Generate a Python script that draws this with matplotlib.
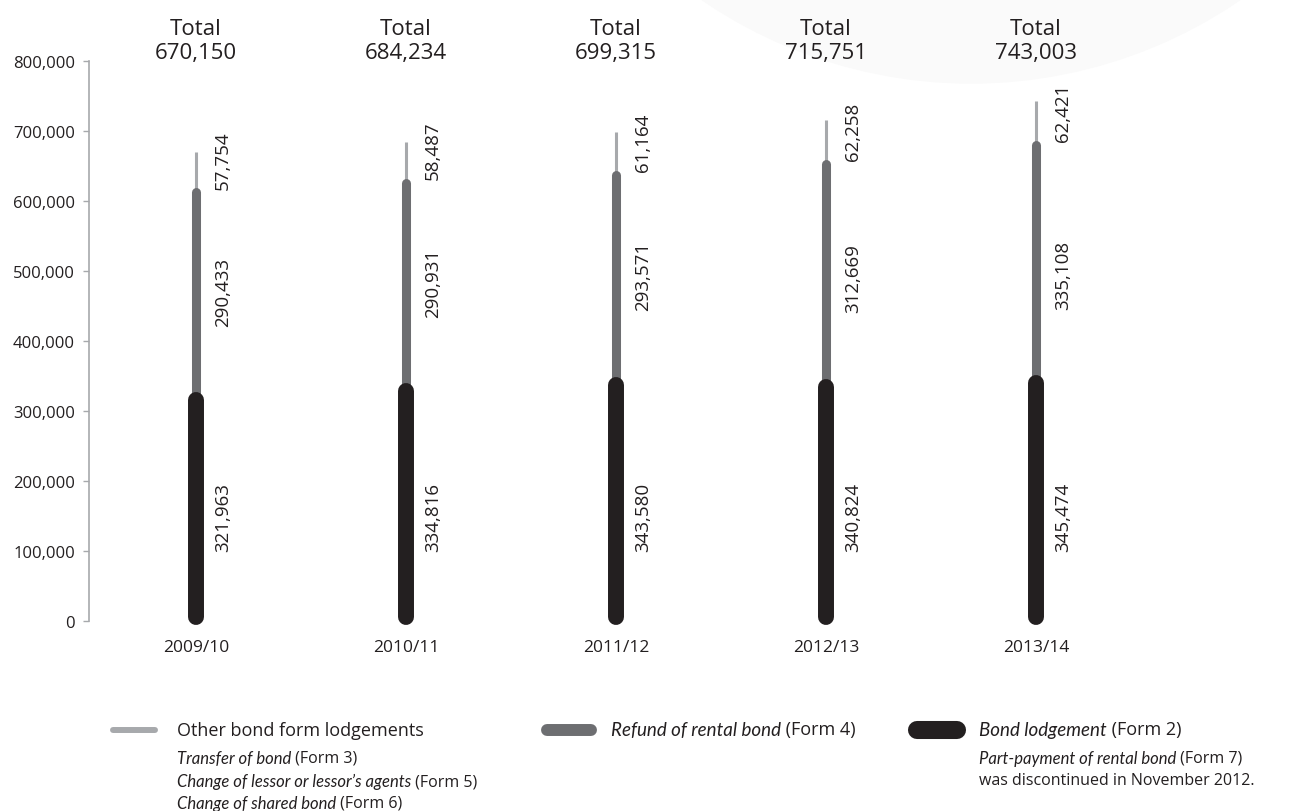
import matplotlib.pyplot as plt
from matplotlib.lines import Line2D
from matplotlib.patches import Ellipse

# 数据
years = ['2009/10', '2010/11', '2011/12', '2012/13', '2013/14']
bond_lodgement = [321963, 334816, 343580, 340824, 345474]   # Form 2
refund = [290433, 290931, 293571, 312669, 335108]           # Form 4
other_forms = [57754, 58487, 61164, 62258, 62421]           # Form 3/5/6
totals = [670150, 684234, 699315, 715751, 743003]
yticks = [0, 100000, 200000, 300000, 400000, 500000, 600000, 700000, 800000]

c_black = '#231f20'
c_dark = '#6d6e71'
c_light = '#a7a9ac'

plt.rcParams['font.family'] = ['Open Sans', 'DejaVu Sans']
plt.rcParams['text.color'] = c_black
ital_family = ['Lato', 'DejaVu Sans']

W, H = 1291, 812
fig = plt.figure(figsize=(W / 100, H / 100), dpi=100)

# 背景的浅灰圆
fig.add_artist(Ellipse((971 / W, 1 + 392 / H), 2 * 476 / W, 2 * 476 / H,
                       transform=fig.transFigure, color='#fafafa', zorder=-5))

ax = fig.add_axes([89 / W, 1 - 622 / H, (1150 - 89) / W, 560 / H])
ax.set_facecolor('none')

for i in range(len(years)):
    b = bond_lodgement[i]
    r = refund[i]
    o = other_forms[i]
    ax.plot([i, i], [b + r, b + r + o], color=c_light, lw=2.2, solid_capstyle='butt',
            zorder=2, clip_on=False)
    ax.plot([i, i], [b, b + r], color=c_dark, lw=6.5, solid_capstyle='round',
            zorder=3, clip_on=False)
    ax.plot([i, i], [6000, b - 6000], color=c_black, lw=11.5, solid_capstyle='round',
            zorder=4, clip_on=False)

    # 数值标签（竖排）
    for start, val in [(0, b), (b, r), (b + r, o)]:
        off = 100000 if val > 200000 else 5000
        ax.annotate(f'{val:,}', xy=(i, start + off), xytext=(19.5, 0),
                    textcoords='offset points', rotation=90,
                    ha='center', va='bottom', fontsize=13.5, color=c_black)

    ax.text(i, 1.036, f'Total\n{totals[i]:,}', transform=ax.get_xaxis_transform(),
            ha='center', va='center', fontsize=16, linespacing=1.2, color=c_black)

ax.set_xlim(-(196 - 89) / 210, 4 + (1150 - 1036) / 210)
ax.set_ylim(0, 800000)
ax.set_yticks(yticks)
ax.set_yticklabels([f'{v:,}' for v in yticks])
ax.set_xticks(range(len(years)))
ax.set_xticklabels(years)

for s in ['top', 'right', 'bottom']:
    ax.spines[s].set_visible(False)
ax.spines['left'].set_color(c_light)
ax.spines['left'].set_linewidth(1.2)
ax.tick_params(axis='y', length=4, width=1, color=c_light, pad=6, labelsize=12, labelcolor=c_black)
ax.tick_params(axis='x', length=0, pad=13, labelsize=12.5, labelcolor=c_black)


# 图例
def fy(y):
    return 1 - y / H


def fx(x):
    return x / W


fig.add_artist(Line2D([fx(113), fx(155)], [fy(731), fy(731)], color=c_light, lw=4.3,
                      solid_capstyle='round', transform=fig.transFigure))
fig.text(fx(177), fy(731), 'Other bond form lodgements', fontsize=13, va='center')

fig.add_artist(Line2D([fx(547), fx(591)], [fy(731), fy(731)], color=c_dark, lw=8.6,
                      solid_capstyle='round', transform=fig.transFigure))
fig.add_artist(Line2D([fx(917), fx(957)], [fy(731), fy(731)], color=c_black, lw=13,
                      solid_capstyle='round', transform=fig.transFigure))

rows = [
    (177, 759, 'Transfer of bond', ' (Form 3)', 11.5),
    (177, 782, "Change of lessor or lessor’s agents", ' (Form 5)', 11.5),
    (177, 804, 'Change of shared bond', ' (Form 6)', 11.5),
    (611, 731, 'Refund of rental bond', ' (Form 4)', 13),
    (979, 731, 'Bond lodgement', ' (Form 2)', 13),
    (979, 759, 'Part-payment of rental bond', ' (Form 7)', 11.5),
]
for x, y, it, nm, sz in rows:
    t = fig.text(fx(x), fy(y), it, style='italic', family=ital_family,
                 fontsize=sz + 0.5, va='center', ha='left')
    ax.annotate(nm, xy=(1, 0), xycoords=t, va='bottom', ha='left',
                fontsize=sz, annotation_clip=False)
fig.text(fx(979), fy(781), 'was discontinued in November 2012.', fontsize=11.5, va='center')

fig.savefig('out.png', dpi=100)
